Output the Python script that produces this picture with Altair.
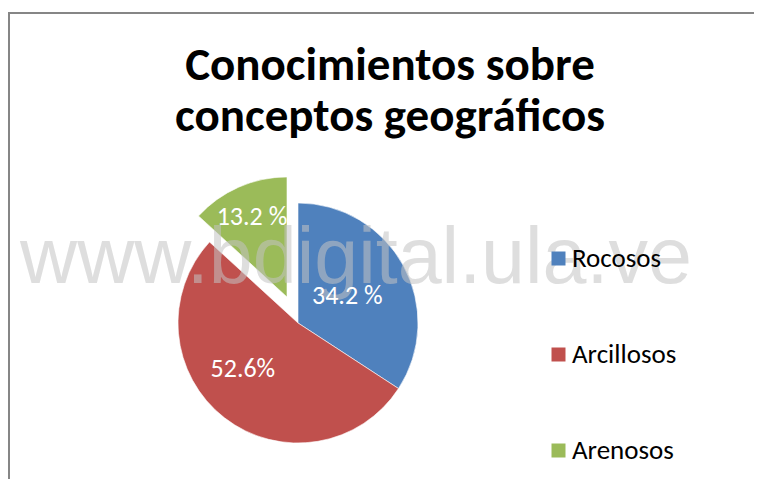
import math
import altair as alt
import pandas as pd

CATEGORIES = ["Rocosos", "Arcillosos", "Arenosos"]
VALUES = [34.2, 52.6, 13.2]
LABELS = ["34.2 %", "52.6%", "13.2 %"]
COLORS = ["#4F81BD", "#C0504D", "#9BBB59"]
TITLE = ["Conocimientos sobre", "conceptos geográficos"]
WATERMARK = ["www.bdigital.ula.ve"]

FONT = "Carlito, Lato, sans-serif"

df = pd.DataFrame({
    "cat": CATEGORIES,
    "value": VALUES,
    "label": LABELS,
    "idx": list(range(len(CATEGORIES))),
})

W, H = 746, 331
PAD_TOP = 140
CX, CY = 290, 175      # pie centre (view coords)
EX, EY = 279, 149      # exploded slice centre
R = 120
EXPLODED = CATEGORIES[2]

theta_scale = alt.Scale(domain=[0, 100], range=[0, 2 * math.pi])
color = alt.Color(
    "cat:N",
    scale=alt.Scale(domain=CATEGORIES, range=COLORS),
    sort=CATEGORIES,
    legend=alt.Legend(
        title=None, orient="none", legendX=537, legendY=97,
        symbolType="square", symbolSize=196, symbolStrokeWidth=0,
        labelFontSize=27, labelFont=FONT, labelColor="#000000",
        labelOffset=0, rowPadding=68, padding=0, direction="vertical",
    ),
)

base = alt.Chart(df).transform_window(
    cum="sum(value)", sort=[alt.SortField("idx")], frame=[None, 0]
).transform_calculate(
    start="datum.cum - datum.value",
    mid="datum.cum - datum.value / 2",
)

main_arcs = base.transform_filter(f"datum.cat != '{EXPLODED}'").mark_arc(
    stroke="#ffffff", strokeWidth=0.6
).encode(
    theta=alt.Theta("start:Q", scale=theta_scale),
    theta2="cum:Q",
    color=color,
    x=alt.value(CX), y=alt.value(CY), radius=alt.value(R),
)

exp_arc = base.transform_filter(f"datum.cat == '{EXPLODED}'").mark_arc(
    stroke="#ffffff", strokeWidth=0.6
).encode(
    theta=alt.Theta("start:Q", scale=theta_scale),
    theta2="cum:Q",
    color=color,
    x=alt.value(EX), y=alt.value(EY), radius=alt.value(R),
)

txt = dict(font=FONT, fontSize=26, color="#ffffff", align="center", baseline="middle")

lab_blue = base.transform_filter(f"datum.cat == '{CATEGORIES[0]}'").mark_text(**txt).encode(
    theta=alt.Theta("mid:Q", scale=theta_scale), text="label:N",
    x=alt.value(CX), y=alt.value(CY), radius=alt.value(56),
)
lab_red = base.transform_filter(f"datum.cat == '{CATEGORIES[1]}'").mark_text(dx=-11, dy=-11, **txt).encode(
    theta=alt.Theta("mid:Q", scale=theta_scale), text="label:N",
    x=alt.value(CX), y=alt.value(CY), radius=alt.value(72),
)
lab_green = base.transform_filter(f"datum.cat == '{EXPLODED}'").mark_text(**txt).encode(
    theta=alt.Theta("mid:Q", scale=theta_scale), text="label:N",
    x=alt.value(EX), y=alt.value(EY), radius=alt.value(87),
)

wm = alt.Chart(pd.DataFrame({"t": WATERMARK})).mark_text(
    font="Liberation Sans, Arial, sans-serif", fontSize=79, color="#c4c4c4",
    opacity=0.55, align="center", baseline="alphabetic",
).encode(text="t:N", x=alt.value(348), y=alt.value(135))

frame_df = pd.DataFrame({"t": [0]})
border_left = alt.Chart(frame_df).mark_rule(stroke="#868686", strokeWidth=2).encode(
    x=alt.value(1), y=alt.value(-136), y2=alt.value(H)
)
border_top = alt.Chart(frame_df).mark_rule(stroke="#868686", strokeWidth=2).encode(
    x=alt.value(0), x2=alt.value(W), y=alt.value(-135)
)

chart = alt.layer(border_left, border_top, main_arcs, exp_arc, wm, lab_blue, lab_red, lab_green).properties(
    width=W, height=H,
    autosize=alt.AutoSizeParams(type="none"),
    padding={"top": PAD_TOP, "left": 0, "right": 0, "bottom": 0},
    background="#ffffff",
    title=alt.TitleParams(
        text=TITLE, font=FONT, fontSize=47, fontWeight="bold", color="#000000",
        anchor="middle", lineHeight=51, offset=11, dx=9, dy=141, frame="group",
    ),
).configure_view(strokeWidth=0)

chart.save("out.html", embed_options={"renderer": "svg", "actions": False})
